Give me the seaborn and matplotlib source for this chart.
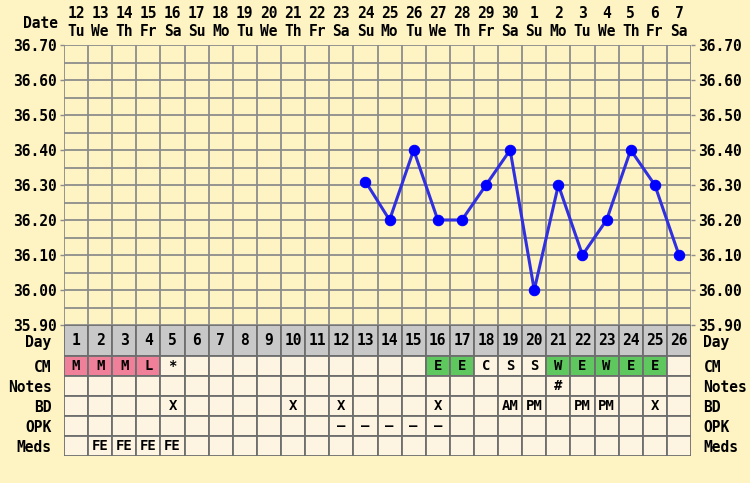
import numpy as np
import pandas as pd
import seaborn as sns
import matplotlib.pyplot as plt

# chart data
cycle_days = list(range(1, 27))
dates = [12, 13, 14, 15, 16, 17, 18, 19, 20, 21, 22, 23, 24, 25, 26, 27, 28, 29, 30,
         1, 2, 3, 4, 5, 6, 7]
weekdays = ["Tu", "We", "Th", "Fr", "Sa", "Su", "Mo", "Tu", "We", "Th", "Fr", "Sa", "Su",
            "Mo", "Tu", "We", "Th", "Fr", "Sa", "Su", "Mo", "Tu", "We", "Th", "Fr", "Sa"]
temps = [None] * 12 + [36.31, 36.20, 36.40, 36.20, 36.20, 36.30, 36.40,
                       36.00, 36.30, 36.10, 36.20, 36.40, 36.30, 36.10]
temp_ticks = [35.90, 36.00, 36.10, 36.20, 36.30, 36.40, 36.50, 36.60, 36.70]

cm = ["M", "M", "M", "L", "*", "", "", "", "", "", "", "", "", "", "", "E", "E", "C",
      "S", "S", "W", "E", "W", "E", "E", ""]
notes = [""] * 20 + ["#"] + [""] * 5
bd = ["", "", "", "", "X", "", "", "", "", "X", "", "X", "", "", "", "X", "", "",
      "AM", "PM", "", "PM", "PM", "", "X", ""]
opk = [""] * 11 + ["–"] * 5 + [""] * 10
meds = ["", "FE", "FE", "FE", "FE"] + [""] * 21

row_names = ["Day", "CM", "Notes", "BD", "OPK", "Meds"]
row_heights = [31, 20, 20, 20, 20, 20]

BG = "#FEF3C2"
CELL = "#FDF5E2"
GRID = "#8C8C8C"
cm_colors = {"M": "#F0809A", "L": "#F0809A", "E": "#5EC85E", "W": "#5EC85E"}

sns.set_theme(style="white")
plt.rcParams["font.family"] = ["DejaVu Sans Mono", "DejaVu Sans"]
plt.rcParams["font.weight"] = "bold"
plt.rcParams["text.color"] = "black"
plt.rcParams["ytick.labelcolor"] = "black"

fig = plt.figure(figsize=(7.5, 4.83), dpi=100, facecolor=BG)
W, H = 750, 483
left, right = 64, 691
top_t, bot_t = 45, 325
ax = fig.add_axes([left / W, 1 - bot_t / H, (right - left) / W, (bot_t - top_t) / H])
tab = fig.add_axes([left / W, 1 - (bot_t + sum(row_heights)) / H, (right - left) / W,
                    sum(row_heights) / H])

# temperature panel
ax.set_facecolor(BG)
ax.set_xlim(0.5, 26.5)
ax.set_ylim(35.90, 36.70)
for x in np.arange(0.5, 27, 1):
    ax.axvline(x, color=GRID, lw=1.3, zorder=1)
for y in np.arange(35.90, 36.71, 0.05):
    ax.axhline(y, color=GRID, lw=1.3, zorder=1)

df = pd.DataFrame({"day": cycle_days, "temp": temps}).dropna()
sns.lineplot(data=df, x="day", y="temp", ax=ax, color="#3030e0", lw=2.2,
             marker="o", markersize=7.5, markerfacecolor="#0000ff",
             markeredgecolor="#0000ff", zorder=3)

ax.set_yticks(temp_ticks)
ax.set_yticklabels([f"{t:.2f}" for t in temp_ticks])
ax.set_xticks([])
ax.set_xlabel("")
ax.set_ylabel("")
ax.tick_params(axis="y", left=True, right=True, labelleft=True, labelright=True,
               length=3, width=1, color=GRID, pad=2, labelsize=10.5,
               labelcolor="black")
for s in ax.spines.values():
    s.set_visible(False)

tr = ax.get_xaxis_transform()
for d, dt, wd in zip(cycle_days, dates, weekdays):
    ax.text(d, 1 + 31 / 280, str(dt), transform=tr, ha="center", va="center",
            fontsize=10.5, fontweight="bold", color="black")
    ax.text(d, 1 + 13 / 280, wd, transform=tr, ha="center", va="center",
            fontsize=10.5, fontweight="bold", color="black")
ax.text(0.25, 1 + 22 / 280, "Date", transform=tr, ha="right", va="center",
        fontsize=10.5, fontweight="bold", color="black")

# table panel
tab.set_xlim(0.5, 26.5)
tab.set_ylim(sum(row_heights), 0)
tab.set_facecolor(BG)
edges = np.concatenate([[0], np.cumsum(row_heights)])
rows = [[str(d) for d in cycle_days], cm, notes, bd, opk, meds]
for r, (vals, y0, h) in enumerate(zip(rows, edges[:-1], row_heights)):
    if r == 0:
        colors = ["#C8C8C8"] * 26
    elif r == 1:
        colors = [cm_colors.get(v, CELL) for v in vals]
    else:
        colors = [CELL] * 26
    tab.bar(cycle_days, [h] * 26, bottom=y0, width=1, color=colors,
            edgecolor="#6E6E6E", linewidth=1.3, zorder=1)
    for d, v in zip(cycle_days, vals):
        if v:
            tab.text(d, y0 + h / 2, v, ha="center", va="center",
                     fontsize=10.5 if r == 0 else 10, fontweight="bold",
                     color="black", zorder=3)

tab.set_yticks(edges[:-1] + np.array(row_heights) / 2)
tab.set_yticklabels(row_names)
tab.set_xticks([])
tab.tick_params(axis="y", left=False, right=False, labelleft=True, labelright=True,
                pad=3, labelsize=10.5, labelcolor="black")
for s in tab.spines.values():
    s.set_visible(False)

fig.savefig("out.png", dpi=100, facecolor=BG)
